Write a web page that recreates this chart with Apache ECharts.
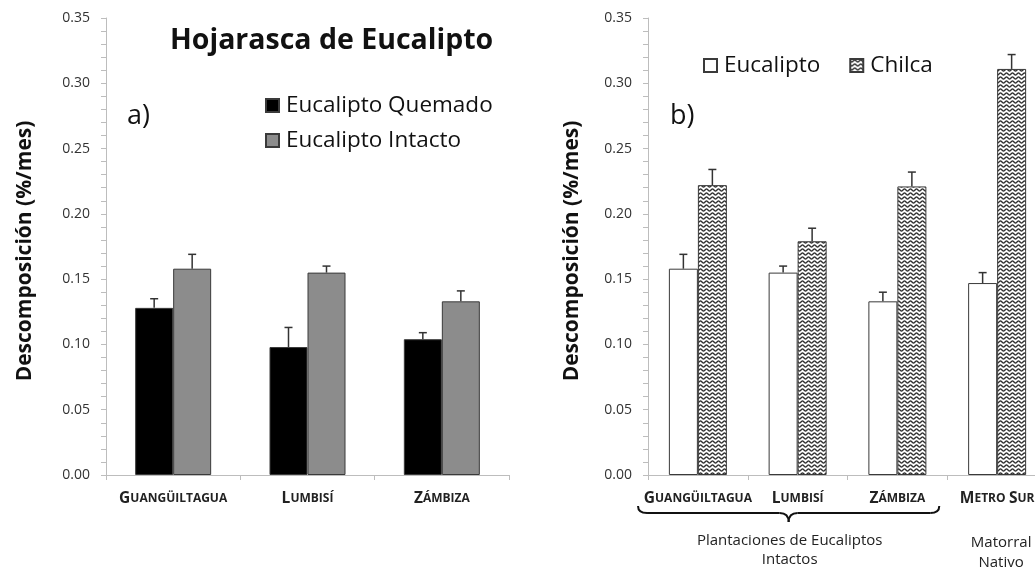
<!DOCTYPE html>
<html>
<head>
<meta charset="utf-8">
<script src="https://cdn.jsdelivr.net/npm/echarts@6/dist/echarts.min.js"></script>
<style>
  html, body { margin: 0; padding: 0; background: #fff; }
  #chart { width: 1035px; height: 567px; }
</style>
</head>
<body>
<div id="chart"></div>
<script>
// Panel a) – eucalyptus litter, burned vs intact sites
const sitesA = ['Guangüiltagua', 'Lumbisí', 'Zámbiza'];
const quemado = [0.128, 0.098, 0.104];
const quemadoErr = [0.007, 0.015, 0.005];
const intacto = [0.158, 0.155, 0.133];
const intactoErr = [0.011, 0.005, 0.008];

// Panel b) – eucalyptus vs chilca litter
const sitesB = ['Guangüiltagua', 'Lumbisí', 'Zámbiza', 'Metro Sur'];
const eucalipto = [0.158, 0.155, 0.133, 0.147];
const eucaliptoErr = [0.011, 0.005, 0.007, 0.008];
const chilca = [0.222, 0.179, 0.221, 0.311];
const chilcaErr = [0.012, 0.010, 0.011, 0.011];

const yTicks = { min: 0, max: 0.35, interval: 0.05 };

const FONT = 'Open Sans';

// wavy hatch used for the chilca bars
function wavePattern() {
  const c = document.createElement('canvas');
  c.width = 6; c.height = 4;
  const g = c.getContext('2d');
  g.fillStyle = '#ffffff';
  g.fillRect(0, 0, 6, 4);
  g.strokeStyle = '#2e2e2e';
  g.lineWidth = 1.3;
  g.beginPath();
  for (let x = -1; x <= 7; x += 0.5) {
    const y = 2 + 1.1 * Math.sin((x / 6) * Math.PI * 2);
    if (x === -1) g.moveTo(x, y); else g.lineTo(x, y);
  }
  g.stroke();
  return c;
}
const hatch = { image: wavePattern(), repeat: 'repeat' };

// small-caps category label: first letter of each word large
function smallCaps(name) {
  return name.toUpperCase().split(' ').map(w =>
    '{b|' + w[0] + '}{s|' + w.slice(1) + '}'
  ).join(' ');
}
const catRich = {
  b: { fontFamily: FONT, fontWeight: 'bold', fontSize: 15.5, color: '#222' },
  s: { fontFamily: FONT, fontWeight: 'bold', fontSize: 12, color: '#222' }
};

function errRender(offset) {
  return function (params, api) {
    const i = api.value(0), v = api.value(1), e = api.value(2);
    const p0 = api.coord([i, v]);
    const p1 = api.coord([i, v + e]);
    const x = p0[0] + offset;
    const st = { stroke: '#333', lineWidth: 1.5 };
    return {
      type: 'group',
      children: [
        { type: 'line', shape: { x1: x, y1: p0[1], x2: x, y2: p1[1] }, style: st },
        { type: 'line', shape: { x1: x - 4, y1: p1[1], x2: x + 4, y2: p1[1] }, style: st }
      ]
    };
  };
}
function errData(vals, errs) {
  return vals.map((v, i) => [i, v, errs[i]]);
}

const axisGray = '#bdbdbd';
function yAxisCfg(gridIndex, gap) {
  return {
    type: 'value', gridIndex: gridIndex,
    min: yTicks.min, max: yTicks.max, interval: yTicks.interval,
    name: 'Descomposición (%/mes)',
    nameLocation: 'middle', nameRotate: 90, nameGap: gap,
    nameTextStyle: { fontFamily: FONT, fontWeight: 'bold', fontSize: 21, color: '#111', padding: [0, 9, 0, 0] },
    axisLine: { show: true, lineStyle: { color: axisGray, width: 1 } },
    axisTick: { show: true, length: 5, lineStyle: { color: axisGray } },
    minorTick: { show: true, splitNumber: 5, length: 5, lineStyle: { color: axisGray } },
    splitLine: { show: false },
    axisLabel: { fontFamily: FONT, fontSize: 14, color: '#333', margin: 16,
      formatter: v => v.toFixed(2) }
  };
}
function xAxisCfg(gridIndex, cats) {
  return {
    type: 'category', gridIndex: gridIndex, data: cats,
    axisLine: { lineStyle: { color: axisGray, width: 1 } },
    axisTick: { show: true, length: 5, lineStyle: { color: axisGray } },
    axisLabel: { margin: 16, formatter: smallCaps, rich: catRich, interval: 0 }
  };
}

const barBorder = { borderColor: '#3a3a3a', borderWidth: 1 };

const option = {
  animation: false,
  backgroundColor: '#ffffff',
  title: [
    { text: 'Hojarasca de Eucalipto', left: 165, top: 21,
      textStyle: { fontFamily: FONT, fontWeight: 'bold', fontSize: 28.5, color: '#111' } },
    { text: 'a)', left: 122, top: 98,
      textStyle: { fontFamily: FONT, fontWeight: 'normal', fontSize: 27, color: '#111' } },
    { text: 'b)', left: 665, top: 98,
      textStyle: { fontFamily: FONT, fontWeight: 'normal', fontSize: 27, color: '#111' } }
  ],
  legend: [
    { data: ['Eucalipto Quemado', 'Eucalipto Intacto'], orient: 'vertical',
      left: 260, top: 89, itemWidth: 13, itemHeight: 13, itemGap: 12,
      icon: 'rect',
      textStyle: { fontFamily: FONT, fontSize: 22.5, color: '#111', lineHeight: 20, padding: [0, 0, 0, 2] } },
    { data: ['Eucalipto', 'Chilca'], orient: 'horizontal',
      left: 698, top: 49, itemWidth: 13, itemHeight: 13, itemGap: 29,
      icon: 'rect',
      textStyle: { fontFamily: FONT, fontSize: 22.5, color: '#111', lineHeight: 20, padding: [0, 0, 0, 2] } }
  ],
  grid: [
    { left: 106, top: 18, width: 403, height: 457, outerBoundsMode: 'none' },
    // panel b) runs past the right edge of the canvas
    { left: 648, top: 18, width: 399, height: 457, outerBoundsMode: 'none' }
  ],
  xAxis: [xAxisCfg(0, sitesA), xAxisCfg(1, sitesB)],
  yAxis: [yAxisCfg(0, 70), yAxisCfg(1, 65)],
  series: [
    { name: 'Eucalipto Quemado', type: 'bar', xAxisIndex: 0, yAxisIndex: 0,
      data: quemado, barWidth: 38, barGap: '0%',
      itemStyle: Object.assign({ color: '#000000' }, barBorder) },
    { name: 'Eucalipto Intacto', type: 'bar', xAxisIndex: 0, yAxisIndex: 0,
      data: intacto, barWidth: 38, barGap: '0%',
      itemStyle: Object.assign({ color: '#8c8c8c' }, barBorder) },
    { name: 'Eucalipto', type: 'bar', xAxisIndex: 1, yAxisIndex: 1,
      data: eucalipto, barWidth: 29, barGap: '0%',
      itemStyle: Object.assign({ color: '#ffffff' }, barBorder) },
    { name: 'Chilca', type: 'bar', xAxisIndex: 1, yAxisIndex: 1,
      data: chilca, barWidth: 29, barGap: '0%',
      itemStyle: Object.assign({ color: hatch }, barBorder) },
    { name: 'errQuemado', type: 'custom', xAxisIndex: 0, yAxisIndex: 0, z: 3,
      renderItem: errRender(-19), data: errData(quemado, quemadoErr) },
    { name: 'errIntacto', type: 'custom', xAxisIndex: 0, yAxisIndex: 0, z: 3,
      renderItem: errRender(19), data: errData(intacto, intactoErr) },
    { name: 'errEucalipto', type: 'custom', xAxisIndex: 1, yAxisIndex: 1, z: 3,
      renderItem: errRender(-14.5), data: errData(eucalipto, eucaliptoErr) },
    { name: 'errChilca', type: 'custom', xAxisIndex: 1, yAxisIndex: 1, z: 3,
      renderItem: errRender(14.5), data: errData(chilca, chilcaErr) }
  ]
};

const chart = echarts.init(document.getElementById('chart'), null, { renderer: 'canvas' });
chart.setOption(option);

// group brace and group captions under panel b)
const cx = i => chart.convertToPixel({ xAxisIndex: 1 }, i);
const band = cx(1) - cx(0);
const bl = cx(0) - 0.6 * band;
const br = cx(2) + 0.42 * band;
const tip = (bl + br) / 2;
const yTop = 506, yMid = 513, yTip = 522;
const braceStyle = { stroke: '#111', lineWidth: 2, fill: null };
const curve = (x1, y1, cpx, cpy, x2, y2) => ({
  type: 'bezierCurve', shape: { x1: x1, y1: y1, cpx1: cpx, cpy1: cpy, x2: x2, y2: y2 }, style: braceStyle
});
const seg = (x1, y1, x2, y2) => ({
  type: 'line', shape: { x1: x1, y1: y1, x2: x2, y2: y2 }, style: braceStyle
});

const capStyle = { fontFamily: FONT, fontSize: 15, fill: '#222', align: 'center', verticalAlign: 'middle' };
chart.setOption({
  graphic: [
    curve(bl, yTop, bl, yMid, bl + 9, yMid),
    seg(bl + 9, yMid, tip - 9, yMid),
    curve(tip - 9, yMid, tip, yMid, tip, yTip),
    curve(tip, yTip, tip, yMid, tip + 9, yMid),
    seg(tip + 9, yMid, br - 9, yMid),
    curve(br - 9, yMid, br, yMid, br, yTop),
    { type: 'text', x: tip + 1, y: 541, style: Object.assign({ text: 'Plantaciones de Eucaliptos' }, capStyle) },
    { type: 'text', x: tip + 1, y: 560, style: Object.assign({ text: 'Intactos' }, capStyle) },
    { type: 'text', x: cx(3) + 4, y: 543, style: Object.assign({ text: 'Matorral' }, capStyle) },
    { type: 'text', x: cx(3) + 4, y: 563, style: Object.assign({ text: 'Nativo' }, capStyle) }
  ]
});
</script>
</body>
</html>
